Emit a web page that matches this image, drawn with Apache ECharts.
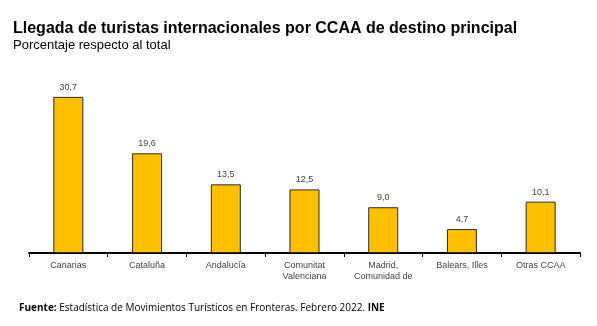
<!DOCTYPE html>
<html>
<head>
<meta charset="utf-8">
<script src="https://cdn.jsdelivr.net/npm/echarts@6/dist/echarts.min.js"></script>
<style>
html,body{margin:0;padding:0;background:#fff;}
#chart{width:597px;height:326px;}
</style>
</head>
<body>
<div id="chart"></div>
<script>
// Tourist arrivals share by main destination region (%)
const categories = ['Canarias', 'Cataluña', 'Andalucía', 'Comunitat\nValenciana', 'Madrid,\nComunidad de', 'Balears, Illes', 'Otras CCAA'];
const shares = [30.7, 19.6, 13.5, 12.5, 9.0, 4.7, 10.1];

const chart = echarts.init(document.getElementById('chart'));
chart.setOption({
  animation: false,
  backgroundColor: '#fff',
  title: [
    {
      text: 'Llegada de turistas internacionales por CCAA de destino principal',
      left: 8, top: 16,
      textStyle: { fontFamily: 'Liberation Sans, Arial', fontSize: 16, fontWeight: 'bold', color: '#000' }
    },
    {
      text: 'Porcentaje respecto al total',
      left: 8, top: 34,
      textStyle: { fontFamily: 'Liberation Sans, Arial', fontSize: 13, fontWeight: 'normal', color: '#000' }
    },
    {
      text: '{b|Fuente:} Estadística de Movimientos Turísticos en Fronteras. Febrero 2022. {b|INE}',
      left: 14, top: 298,
      textStyle: {
        fontFamily: 'Open Sans, sans-serif', fontSize: 10, fontWeight: 'normal', color: '#000',
        rich: { b: { fontWeight: 'bold', fontFamily: 'Open Sans, sans-serif', fontSize: 10, color: '#000' } }
      }
    }
  ],
  grid: { left: 29, right: 17, top: 75, bottom: 73 },
  xAxis: {
    type: 'category',
    data: categories,
    axisLine: { lineStyle: { color: '#000', width: 2 } },
    axisTick: { show: true, length: 4, lineStyle: { color: '#000', width: 1 } },
    axisLabel: { color: '#444', fontFamily: 'Liberation Sans, Arial', fontSize: 9, margin: 7, lineHeight: 11, interval: 0 }
  },
  yAxis: {
    type: 'value', min: 0, max: 35,
    show: false,
    splitLine: { show: false }
  },
  series: [{
    type: 'bar',
    data: shares,
    barWidth: 30,
    itemStyle: { color: '#FFC000', borderColor: '#2b2b2b', borderWidth: 1 },
    label: {
      show: true, position: 'top', distance: 5,
      color: '#444', fontFamily: 'Liberation Sans, Arial', fontSize: 9,
      formatter: p => p.value.toFixed(1).replace('.', ',')
    }
  }]
});
</script>
</body>
</html>
